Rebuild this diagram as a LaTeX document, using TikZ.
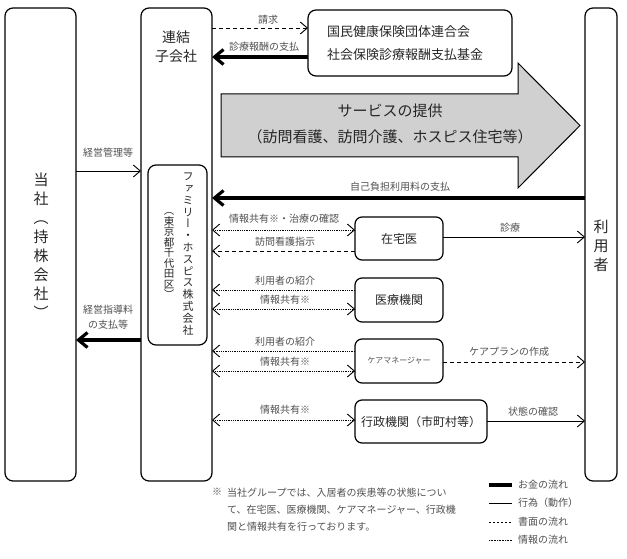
\documentclass[tikz,border=0pt]{standalone}
\usepackage{fontspec}
\setmainfont{Noto Sans CJK JP}
\newfontfamily\vfont[RawFeature={+vert}]{Noto Sans CJK JP}
\usetikzlibrary{arrows.meta}
\definecolor{arrowgray}{RGB}{208,208,208}
\definecolor{lblgray}{RGB}{80,80,80}
\begin{document}
\begin{tikzpicture}[x=1pt,y=-1pt,
  box/.style={draw, line width=1.2pt, rounded corners=8pt, inner sep=0pt, outer sep=0pt},
  sbox/.style={box, rounded corners=7pt, font=\fontsize{12}{14}\selectfont, text=black!85},
  lbl/.style={font=\fontsize{10}{11}\selectfont, text=lblgray, inner sep=0pt},
  thinarrow/.style={line width=0.9pt, -{Straight Barb[length=7pt,width=12pt]}},
  money/.style={line width=3.2pt, -{Straight Barb[length=9pt,width=15pt]}},
  doc/.style={line width=0.9pt, dash pattern=on 4pt off 3pt, -{Straight Barb[length=7pt,width=12pt]}},
  info/.style={line width=0.9pt, dash pattern=on 0.9pt off 0.9pt, -{Straight Barb[length=7pt,width=12pt]}},
  infob/.style={info, {Straight Barb[length=7pt,width=12pt]}-{Straight Barb[length=7pt,width=12pt]}},
  vtext/.style={align=center, inner sep=0pt, text=black!85}
]
\useasboundingbox (0,0) rectangle (627,559);

% main boxes
\node[box, minimum width=71pt, minimum height=473pt] (tosha) at (40.5,244.5) {};
\node[box, minimum width=71pt, minimum height=473pt] (rk) at (176.5,244.5) {};
\node[box, minimum width=32pt, minimum height=473pt] (user) at (601,244.5) {};
\node[box, minimum width=59pt, minimum height=180pt] (fh) at (177.5,255) {};
\node[box, minimum width=204pt, minimum height=66pt] (kk) at (410,43) {};
\node[sbox, minimum width=88pt, minimum height=43pt] (zai) at (399,238.5) {在宅医};
\node[sbox, minimum width=88pt, minimum height=44pt] (iryo) at (399,300) {医療機関};
\node[sbox, minimum width=88pt, minimum height=44pt, font=\fontsize{8}{10}\selectfont, text=lblgray] (care) at (399,361) {ケアマネージャー};
\node[sbox, minimum width=132pt, minimum height=43pt] (gyo) at (421,421.5) {行政機関（市町村等）};

% box texts
\node[vtext, font=\vfont\fontsize{15}{19}\selectfont] (toshat) at (41,246) {当\\社\\（\\持\\株\\会\\社\\）};
\node[vtext, font=\vfont\fontsize{15}{19}\selectfont] (usert) at (601,246) {利\\用\\者};
\node[vtext, font=\fontsize{14}{19}\selectfont] (rkt) at (176,47) {連結\\子会社};
\node[vtext, font=\vfont\fontsize{11}{11.8}\selectfont] (fht) at (188,254) {フ\\ァ\\ミ\\リ\\ー\\・\\ホ\\ス\\ピ\\ス\\株\\式\\会\\社};
\node[vtext, font=\vfont\fontsize{10.5}{10.5}\selectfont] (fht2) at (169,256) {（\\東\\京\\都\\千\\代\\田\\区\\）};
\node[align=left, anchor=west, inner sep=0pt, font=\fontsize{13}{23}\selectfont, text=black!85] (kkt) at (327,43) {国民健康保険団体連合会\\社会保険診療報酬支払基金};

% big arrow
\draw[line width=1pt, fill=arrowgray] (221,94) -- (518,94) -- (518,63) -- (580,125.5) -- (518,188) -- (518,157) -- (221,157) -- cycle;
\node[font=\fontsize{15}{17}\selectfont, text=black!85, inner sep=0pt] (sv1) at (390,111) {サービスの提供};
\node[font=\fontsize{15}{17}\selectfont, text=black!85, inner sep=0pt] (sv2) at (390,137) {（訪問看護、訪問介護、ホスピス住宅等）};

% top connectors
\draw[doc] (rk.east |- 0,28) -- (kk.west |- 0,28);
\node[lbl] at (268,20) {請求};
\draw[money] (kk.west |- 0,57) -- (rk.east |- 0,57);
\node[lbl] at (264,47) {診療報酬の支払};

% holding connectors
\draw[thinarrow] (tosha.east |- 0,171) -- (rk.west |- 0,171);
\node[lbl] at (108,153) {経営管理等};
\draw[money] (rk.west |- 0,340) -- (tosha.east |- 0,340);
\node[lbl, align=center, font=\fontsize{10}{14.5}\selectfont] at (108,317) {経営指導料\\の支払等};

% user payment
\draw[money] (user.west |- 0,198) -- (rk.east |- 0,198);
\node[lbl] at (400,187) {自己負担利用料の支払};

% 在宅医
\draw[infob] (rk.east |- 0,230) -- (zai.west |- 0,230);
\node[lbl] at (284,219) {情報共有※・治療の確認};
\draw[doc] (zai.west |- 0,251) -- (rk.east |- 0,251);
\node[lbl] at (285,242) {訪問看護指示};
\draw[thinarrow] (zai.east |- 0,237) -- (user.west |- 0,237);
\node[lbl] at (510,228) {診療};

% 医療機関
\draw[info] (iryo.west |- 0,290) -- (rk.east |- 0,290);
\node[lbl] at (285,281) {利用者の紹介};
\draw[infob] (rk.east |- 0,309) -- (iryo.west |- 0,309);
\node[lbl] at (285,300) {情報共有※};

% ケアマネージャー
\draw[info] (care.west |- 0,351) -- (rk.east |- 0,351);
\node[lbl] at (285,342) {利用者の紹介};
\draw[infob] (rk.east |- 0,371) -- (care.west |- 0,371);
\node[lbl] at (285,362) {情報共有※};
\draw[doc] (care.east |- 0,362) -- (user.west |- 0,362);
\node[lbl] at (509,352) {ケアプランの作成};

% 行政機関
\draw[infob] (rk.east |- 0,420) -- (gyo.west |- 0,420);
\node[lbl] at (285,410) {情報共有※};
\draw[thinarrow] (gyo.east |- 0,421) -- (user.west |- 0,421);
\node[lbl] at (533,412) {状態の確認};

% footnote
\node[lbl, anchor=north, font=\fontsize{10}{17}\selectfont] (kome) at (217,488) {※};
\node[lbl, anchor=north west, align=left, font=\fontsize{10}{17}\selectfont] (fn) at (227,488) {当社グループでは、入居者の疾患等の状態につい\\て、在宅医、医療機関、ケアマネージャー、行政機\\関と情報共有を行っております。};

% legend
\node[lbl, anchor=west] (lg1) at (518,485) {お金の流れ};
\node[lbl, anchor=west] (lg2) at (518,503) {行為（動作）};
\node[lbl, anchor=west] (lg3) at (518,522) {書面の流れ};
\node[lbl, anchor=west] (lg4) at (518,540) {情報の流れ};
\coordinate (c1) at (489,485);
\coordinate (c2) at (489,503);
\coordinate (c3) at (489,522);
\coordinate (c4) at (489,540);
\draw[line width=3.2pt] (c1) -- (c1 -| 512,0);
\draw[line width=0.9pt] (c2) -- (c2 -| 512,0);
\draw[line width=0.9pt, dash pattern=on 2pt off 2pt] (c3) -- (c3 -| 512,0);
\draw[line width=0.9pt, dash pattern=on 0.8pt off 0.8pt] (c4) -- (c4 -| 512,0);
\end{tikzpicture}
\end{document}
